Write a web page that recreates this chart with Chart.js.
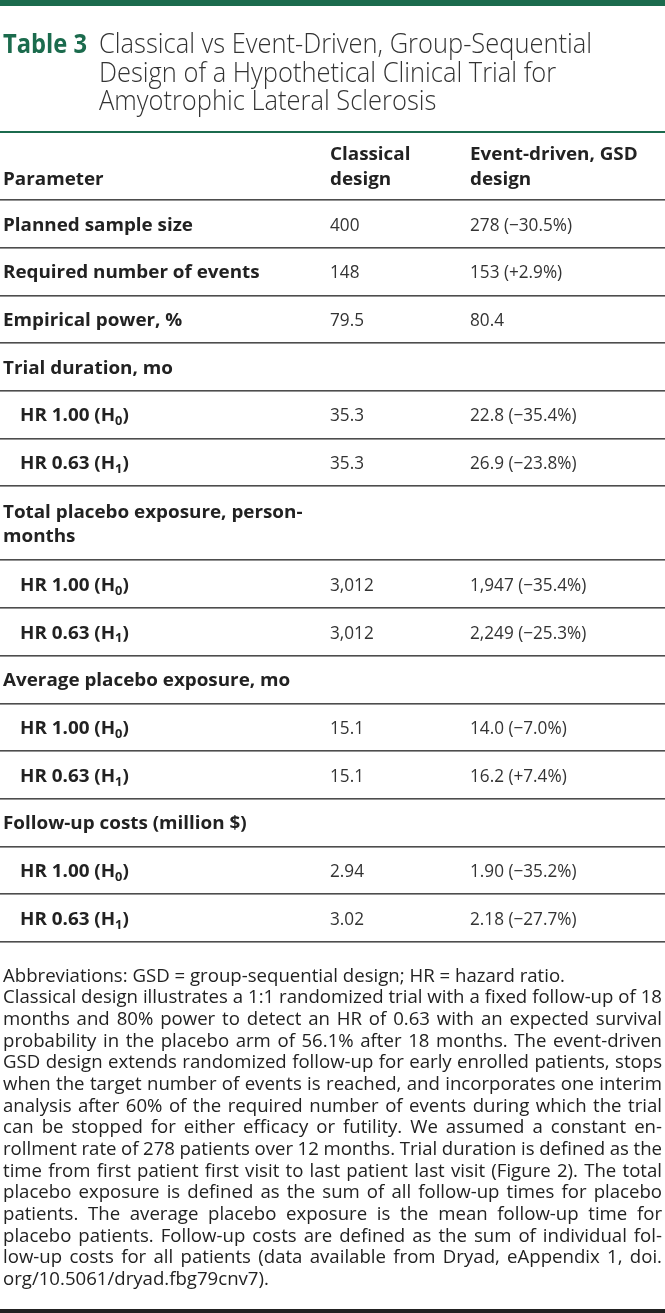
<!DOCTYPE html>
<html>
<head>
<meta charset="utf-8">
<script src="https://cdn.jsdelivr.net/npm/chart.js@4.4.1/dist/chart.umd.min.js"></script>
<style>
html, body { margin: 0; padding: 0; background: #fff; }
#wrap { width: 665px; height: 1313px; }
</style>
</head>
<body>
<div id="wrap"><canvas id="tableChart" width="665" height="1313"></canvas></div>
<script>
const titleLabel = 'Table 3';
const titleLines = [
    'Classical vs Event-Driven, Group-Sequential',
    'Design of a Hypothetical Clinical Trial for',
    'Amyotrophic Lateral Sclerosis'
];
const headers = [['Parameter'], ['Classical', 'design'], ['Event-driven, GSD', 'design']];
const parameters = [
    'Planned sample size', 'Required number of events', 'Empirical power, %',
    'Trial duration, mo', 'HR 1.00 (H₀)', 'HR 0.63 (H₁)',
    'Total placebo exposure, person-\nmonths', 'HR 1.00 (H₀)', 'HR 0.63 (H₁)',
    'Average placebo exposure, mo', 'HR 1.00 (H₀)', 'HR 0.63 (H₁)',
    'Follow-up costs (million $)', 'HR 1.00 (H₀)', 'HR 0.63 (H₁)'
];
const subRow = [false, false, false, false, true, true, false, true, true, false, true, true, false, true, true];
const classical = ['400', '148', '79.5', '', '35.3', '35.3', '', '3,012', '3,012', '', '15.1', '15.1', '', '2.94', '3.02'];
const eventDriven = [
    '278 (−30.5%)', '153 (+2.9%)', '80.4', '', '22.8 (−35.4%)', '26.9 (−23.8%)',
    '', '1,947 (−35.4%)', '2,249 (−25.3%)', '', '14.0 (−7.0%)', '16.2 (+7.4%)',
    '', '1.90 (−35.2%)', '2.18 (−27.7%)'
];
const footnotes = [
    'Abbreviations: GSD = group-sequential design; HR = hazard ratio.',
    'Classical design illustrates a 1:1 randomized trial with a fixed follow-up of 18',
    'months and 80% power to detect an HR of 0.63 with an expected survival',
    'probability in the placebo arm of 56.1% after 18 months. The event-driven',
    'GSD design extends randomized follow-up for early enrolled patients, stops',
    'when the target number of events is reached, and incorporates one interim',
    'analysis after 60% of the required number of events during which the trial',
    'can be stopped for either efficacy or futility. We assumed a constant en-',
    'rollment rate of 278 patients over 12 months. Trial duration is defined as the',
    'time from first patient first visit to last patient last visit (Figure 2). The total',
    'placebo exposure is defined as the sum of all follow-up times for placebo',
    'patients. The average placebo exposure is the mean follow-up time for',
    'placebo patients. Follow-up costs are defined as the sum of individual fol-',
    'low-up costs for all patients (data available from Dryad, eAppendix 1, doi.',
    'org/10.5061/dryad.fbg79cnv7).'
];

const GREEN = '#1b6b4d';
const TEXT = '#222';
const FONT = '"Open Sans", "Noto Sans", sans-serif';
const HEADER_U = 1.43;      // header height in row units
const EXTRA_LINE_U = 0.555; // each extra wrapped line
const LINE_GAP = 23.5;      // px between wrapped lines
const BODY_PX = 18;

const rowUnits = parameters.map(p => 1 + (p.split('\n').length - 1) * EXTRA_LINE_U);
const rowStart = [];
let acc = HEADER_U;
rowUnits.forEach(u => { rowStart.push(acc); acc += u; });
const totalUnits = acc;

// draws text squeezed by sx, turning ₀ ₁ into real subscripts
function drawRich(ctx, text, x, y, size, weight, sx) {
    const subs = {'₀': '0', '₁': '1'};
    let cx = x;
    let buf = '';
    const put = (t, yy, font) => {
        ctx.font = font;
        ctx.save();
        ctx.translate(cx, yy);
        ctx.scale(sx, 1);
        ctx.fillText(t, 0, 0);
        ctx.restore();
        cx += ctx.measureText(t).width * sx;
    };
    const flush = () => {
        if (buf) put(buf, y, `${weight} ${size}px ${FONT}`);
        buf = '';
    };
    for (const ch of text) {
        if (subs[ch]) {
            flush();
            put(subs[ch], y + size * 0.22, `${weight} ${size * 0.68}px ${FONT}`);
        } else buf += ch;
    }
    flush();
}

function drawScaled(ctx, text, x, y, sx) {
    ctx.save();
    ctx.translate(x, y);
    ctx.scale(sx, 1);
    ctx.fillText(text, 0, 0);
    ctx.restore();
}

function drawJustified(ctx, text, x, y, width, sx, justify) {
    const words = text.split(' ');
    const spaceW = ctx.measureText(' ').width;
    let s = sx;
    const wordW = words.map(w => ctx.measureText(w).width);
    const total = wordW.reduce((a, b) => a + b, 0);
    let gap = spaceW * s;
    if (justify && words.length > 1) {
        gap = (width - total * s) / (words.length - 1);
        const minGap = spaceW * s * 0.55;
        if (gap < minGap) {
            s = (width - minGap * (words.length - 1)) / total;
            gap = minGap;
        }
    }
    let cx = x;
    words.forEach((w, i) => {
        drawScaled(ctx, w, cx, y, s);
        cx += wordW[i] * s + gap;
    });
}

const tablePlugin = {
    id: 'tablePlugin',
    afterDraw(chart) {
        const ctx = chart.ctx;
        const ys = chart.scales.y;
        const area = chart.chartArea;
        const W = chart.width;
        ctx.save();
        ctx.textBaseline = 'alphabetic';
        ctx.textAlign = 'left';

        // top band
        ctx.fillStyle = GREEN;
        ctx.fillRect(0, 0, W, 6);

        // title
        ctx.font = `700 27px ${FONT}`;
        ctx.fillStyle = GREEN;
        drawScaled(ctx, titleLabel, 3, 53.3, 84 / ctx.measureText(titleLabel).width);
        ctx.font = `300 27px ${FONT}`;
        ctx.fillStyle = '#333';
        const tsx = 493 / ctx.measureText(titleLines[0]).width;
        titleLines.forEach((t, i) => drawScaled(ctx, t, 99, 53.3 + i * 28.3, tsx));

        // green rule under the title
        ctx.fillStyle = GREEN;
        ctx.fillRect(0, area.top - 1, W, 2);

        // squeeze factors so bold labels and values keep the printed widths
        ctx.font = `700 ${BODY_PX}px ${FONT}`;
        const bsx = 190 / ctx.measureText(parameters[0]).width;
        ctx.font = `400 ${BODY_PX}px ${FONT}`;
        const vsx = 102 / ctx.measureText(eventDriven[0]).width;

        const colX = [3, 330, 470];
        const capHalf = BODY_PX * 0.36;
        const hTop = ys.getPixelForValue(0), hBot = ys.getPixelForValue(HEADER_U);
        const hMid = (hTop + hBot) / 2;
        ctx.fillStyle = TEXT;
        headers.forEach((lines, c) => {
            lines.forEach((t, k) => {
                const yy = hMid + 12.5 - (lines.length - 1 - k) * 25 + capHalf;
                drawRich(ctx, t, colX[c], yy, BODY_PX, 700, bsx);
            });
        });

        const rule = yv => {
            ctx.fillStyle = '#4d4d4d';
            ctx.fillRect(0, Math.round(ys.getPixelForValue(yv)) - 1, W, 1.6);
        };
        rule(HEADER_U);

        parameters.forEach((p, i) => {
            const top = ys.getPixelForValue(rowStart[i]);
            const bot = ys.getPixelForValue(rowStart[i] + rowUnits[i]);
            const mid = (top + bot) / 2;
            const lines = p.split('\n');
            ctx.fillStyle = TEXT;
            lines.forEach((t, k) => {
                const yy = mid + (k - (lines.length - 1) / 2) * LINE_GAP + capHalf;
                drawRich(ctx, t, colX[0] + (subRow[i] ? 17 : 0), yy, BODY_PX, 700, bsx);
            });
            ctx.fillStyle = '#333';
            if (classical[i]) drawRich(ctx, classical[i], colX[1], mid + capHalf, BODY_PX, 400, vsx);
            if (eventDriven[i]) drawRich(ctx, eventDriven[i], colX[2], mid + capHalf, BODY_PX, 400, vsx);
            rule(rowStart[i] + rowUnits[i]);
        });

        // footnote
        ctx.fillStyle = '#222';
        ctx.font = `400 17.5px ${FONT}`;
        const fsx = 562 / ctx.measureText(footnotes[0]).width;
        footnotes.forEach((t, i) => {
            const justify = i > 0 && i < footnotes.length - 1;
            drawJustified(ctx, t, 3, 981.7 + i * 21.67, 659, fsx, justify);
        });

        // bottom rule
        ctx.fillStyle = '#222';
        ctx.fillRect(0, 1309, W, 4);
        ctx.restore();
    }
};

new Chart(document.getElementById('tableChart'), {
    type: 'scatter',
    data: { datasets: [{ data: [], pointRadius: 0 }] },
    options: {
        responsive: false,
        animation: false,
        layout: { padding: { top: 132, bottom: 1313 - 942, left: 0, right: 0 } },
        plugins: { legend: { display: false }, tooltip: { enabled: false } },
        scales: {
            x: { type: 'linear', display: false, min: 0, max: 1 },
            y: { type: 'linear', display: false, reverse: true, min: 0, max: totalUnits }
        }
    },
    plugins: [tablePlugin]
});
</script>
</body>
</html>
